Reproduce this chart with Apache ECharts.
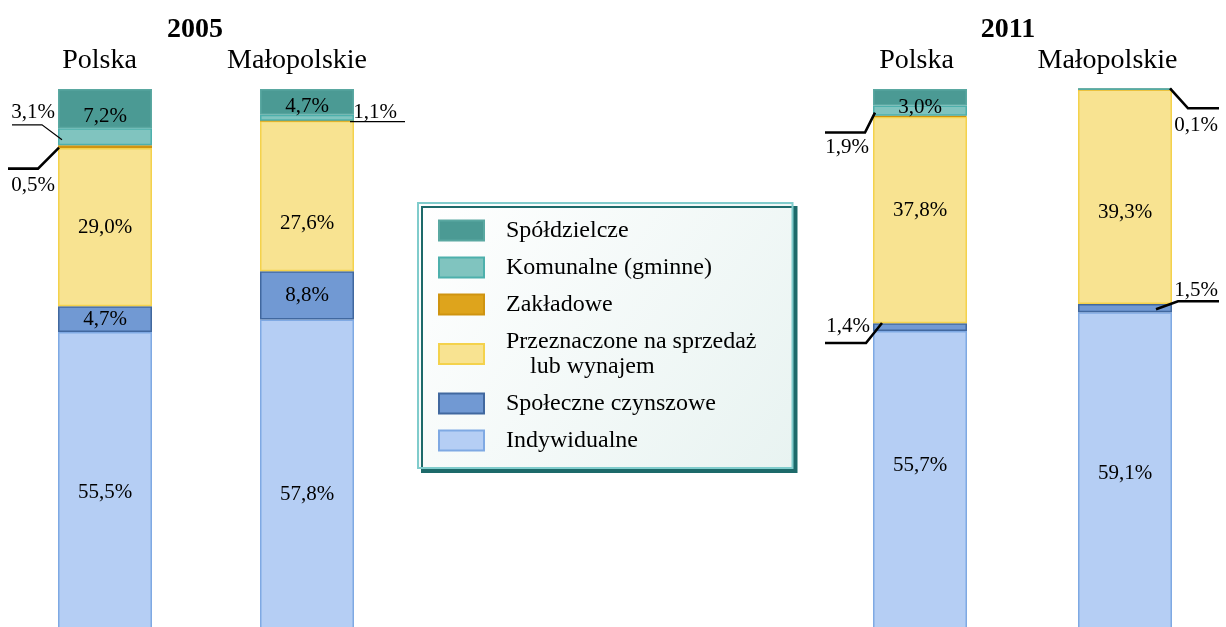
<!DOCTYPE html>
<html lang="pl">
<head>
<meta charset="utf-8">
<title>Mieszkania oddane do użytkowania według form budownictwa</title>
<script src="https://cdn.jsdelivr.net/npm/echarts@6/dist/echarts.min.js"></script>
<style>
  html, body { margin: 0; padding: 0; background: #ffffff; }
  #chart { width: 1226px; height: 627px; }
</style>
</head>
<body>
<div id="chart"></div>
<script>
// Struktura mieszkań oddanych do użytkowania wg form budownictwa (%)
const years = ['2005', '2011'];
const regions = ['Polska', 'Małopolskie'];
const seriesNames = [
  'Spółdzielcze',
  'Komunalne (gminne)',
  'Zakładowe',
  'Przeznaczone na sprzedaż\n    lub wynajem',
  'Społeczne czynszowe',
  'Indywidualne'
];
// columns: Polska 2005, Małopolskie 2005, Polska 2011, Małopolskie 2011
const spoldzielcze = [7.2, 4.7, 3.0, 0.0];
const komunalne    = [3.1, 1.1, 1.9, 0.1];
const zakladowe    = [0.5, 0.0, 0.2, 0.0];
const naSprzedaz   = [29.0, 27.6, 37.8, 39.3];
const spoleczne    = [4.7, 8.8, 1.4, 1.5];
const indywidualne = [55.5, 57.8, 55.7, 59.1];

// values in legend order (top of the stack first)
const valueRows = [spoldzielcze, komunalne, zakladowe, naSprzedaz, spoleczne, indywidualne];

// segments whose value is written outside the bar, with a leader line
// [column, series index]
const calloutSegments = [
  [0, 1], [0, 2], [1, 1], [2, 1], [3, 1], [2, 4], [3, 4]
];

// ---- styling ----
const FONT = "'Liberation Serif', 'Times New Roman', serif";
const BAR_W = 94;
const fills   = ['#4B9A94', '#80C4BF', '#DEA41C', '#F8E391', '#7199D3', '#B5CEF4'];
const borders = ['#5AA8A1', '#4DB0AC', '#CF9410', '#F4D24C', '#41689F', '#7FA9E3'];

// leader-line geometry for each callout (same order as calloutSegments)
// anchor: offset from the bar edge at segment middle; elbow: offset from anchor;
// run: length of the horizontal part; text: label centre offset from elbow
const calloutLayout = [
  { side: 'left',  anchor: [4, 3],    elbow: [-20, -15], run: -30, text: [-9, -12],  width: 1.2 },
  { side: 'left',  anchor: [1, 1],    elbow: [-21, 21],  run: -30, text: [-5, 17],   width: 2.6 },
  { side: 'right', anchor: [-4, 4],   elbow: [0, 0],     run: 55,  text: [25, -9],   width: 1.2 },
  { side: 'left',  anchor: [2, 2],    elbow: [-10, 20],  run: -40, text: [-18, 15],  width: 2.6 },
  { side: 'right', anchor: [-2, -1],  elbow: [18, 20],   run: 31,  text: [8, 17],    width: 2.6 },
  { side: 'left',  anchor: [9, -4],   elbow: [-16, 20],  run: -41, text: [-18, -17], width: 2.6 },
  { side: 'right', anchor: [-16, 1],  elbow: [22, -8],   run: 41,  text: [18, -11],  width: 2.6 }
];

// hand-placed nudges of inside labels, keyed "column-series"
const insideLabelOffset = {
  '0-0': [0, 8],  '1-0': [0, 5],  '2-0': [0, 10],
  '1-3': [0, 27], '2-3': [0, -10], '3-3': [0, 16],
  '0-5': [0, 9],  '1-5': [0, 17], '2-5': [0, -17]
};

const fmt = v => v.toFixed(1).replace('.', ',') + '%';
const isCallout = (col, s) => calloutSegments.some(c => c[0] === col && c[1] === s);

const grids = [
  { left: 4,     width: 404, top: 89, bottom: -8, outerBoundsMode: 'none', containLabel: false },
  { left: 817.5, width: 410, top: 89, bottom: -8, outerBoundsMode: 'none', containLabel: false }
];

const xAxes = grids.map((g, gi) => ({
  type: 'category',
  gridIndex: gi,
  position: 'top',
  data: regions,
  axisLine: { show: false },
  axisTick: { show: false },
  axisLabel: {
    interval: 0,
    hideOverlap: false,
    margin: 14,
    fontFamily: FONT,
    fontSize: 28,
    color: '#000',
    formatter: (v, i) => '{' + (gi === 0 ? 'a' : 'b') + i + '|' + v + '}',
    rich: {
      a0: { fontFamily: FONT, fontSize: 28, color: '#000', padding: [0, 11, 0, 0] },
      a1: { fontFamily: FONT, fontSize: 28, color: '#000', padding: [0, 20, 0, 0] },
      b0: { fontFamily: FONT, fontSize: 28, color: '#000', padding: [0, 7, 0, 0] },
      b1: { fontFamily: FONT, fontSize: 28, color: '#000', padding: [0, 35, 0, 0] }
    }
  }
}));

const yAxes = grids.map((g, gi) => ({
  type: 'value',
  gridIndex: gi,
  min: 0,
  max: 100,
  show: false,
  splitLine: { show: false }
}));

// bars: stack from the bottom (Indywidualne) upwards
const series = [];
years.forEach((year, gi) => {
  for (let s = valueRows.length - 1; s >= 0; s--) {
    const data = regions.map((r, ri) => {
      const col = gi * 2 + ri;
      const v = valueRows[s][col];
      const showInside = v >= 2 && !isCallout(col, s);
      const off = insideLabelOffset[col + '-' + s] || [0, 0];
      return { value: v, label: { show: showInside, offset: off } };
    });
    series.push({
      type: 'bar',
      name: seriesNames[s],
      xAxisIndex: gi,
      yAxisIndex: gi,
      stack: 'y' + year,
      barWidth: BAR_W,
      data: data,
      itemStyle: { color: fills[s], borderColor: borders[s], borderWidth: 1.5 },
      label: {
        position: 'inside',
        fontFamily: FONT,
        fontSize: 21,
        color: '#000',
        formatter: p => fmt(p.value)
      },
      emphasis: { disabled: true },
      animation: false
    });
  }

  // callouts for thin segments of this year
  const calloutData = [];
  calloutSegments.forEach((c, ci) => {
    const col = c[0], s = c[1];
    if (Math.floor(col / 2) !== gi) return;
    let start = 0;
    for (let k = valueRows.length - 1; k > s; k--) start += valueRows[k][col];
    const end = start + valueRows[s][col];
    calloutData.push([col % 2, start, end, ci, valueRows[s][col]]);
  });
  series.push({
    type: 'custom',
    xAxisIndex: gi,
    yAxisIndex: gi,
    clip: false,
    silent: true,
    animation: false,
    z: 5,
    data: calloutData,
    renderItem: (params, api) => {
      const L = calloutLayout[api.value(3)];
      const mid = api.coord([api.value(0), (api.value(1) + api.value(2)) / 2]);
      const edgeX = mid[0] + (L.side === 'left' ? -1 : 1) * BAR_W / 2;
      const ax = edgeX + L.anchor[0], ay = mid[1] + L.anchor[1];
      const ex = ax + L.elbow[0], ey = ay + L.elbow[1];
      const rx = ex + L.run;
      return {
        type: 'group',
        children: [
          {
            type: 'polyline',
            shape: { points: [[ax, ay], [ex, ey], [rx, ey]] },
            style: { stroke: '#000', lineWidth: L.width, fill: null }
          },
          {
            type: 'text',
            style: {
              text: fmt(api.value(4)),
              x: ex + L.text[0],
              y: ey + L.text[1],
              align: 'center',
              verticalAlign: 'middle',
              fontFamily: FONT,
              fontSize: 21,
              fill: '#000'
            }
          }
        ]
      };
    }
  });
});

const option = {
  backgroundColor: '#ffffff',
  animation: false,
  title: [
    { text: years[0], left: 190, top: 11, textAlign: 'center',
      textStyle: { fontFamily: FONT, fontSize: 28, fontWeight: 'bold', color: '#000' } },
    { text: years[1], left: 1003, top: 11, textAlign: 'center',
      textStyle: { fontFamily: FONT, fontSize: 28, fontWeight: 'bold', color: '#000' } }
  ],
  legend: {
    orient: 'vertical',
    left: 418,
    top: 203,
    data: seriesNames,
    selectedMode: false,
    icon: 'rect',
    itemWidth: 45,
    itemHeight: 20,
    itemGap: 12,
    padding: [15, 36, 15, 20],
    backgroundColor: {
      type: 'linear', x: 0, y: 0, x2: 1, y2: 1,
      colorStops: [{ offset: 0, color: '#ffffff' }, { offset: 1, color: '#e8f3f1' }]
    },
    borderColor: '#80CCCC',
    borderWidth: 2,
    shadowColor: '#1D6A6A',
    shadowBlur: 0,
    shadowOffsetX: 4,
    shadowOffsetY: 4,
    textStyle: {
      fontFamily: FONT,
      fontSize: 24,
      lineHeight: 25,
      color: '#000',
      padding: [0, 0, 0, 17]
    }
  },
  grid: grids,
  xAxis: xAxes,
  yAxis: yAxes,
  series: series
};

const chart = echarts.init(document.getElementById('chart'), null, { renderer: 'canvas' });
chart.setOption(option);
</script>
</body>
</html>
